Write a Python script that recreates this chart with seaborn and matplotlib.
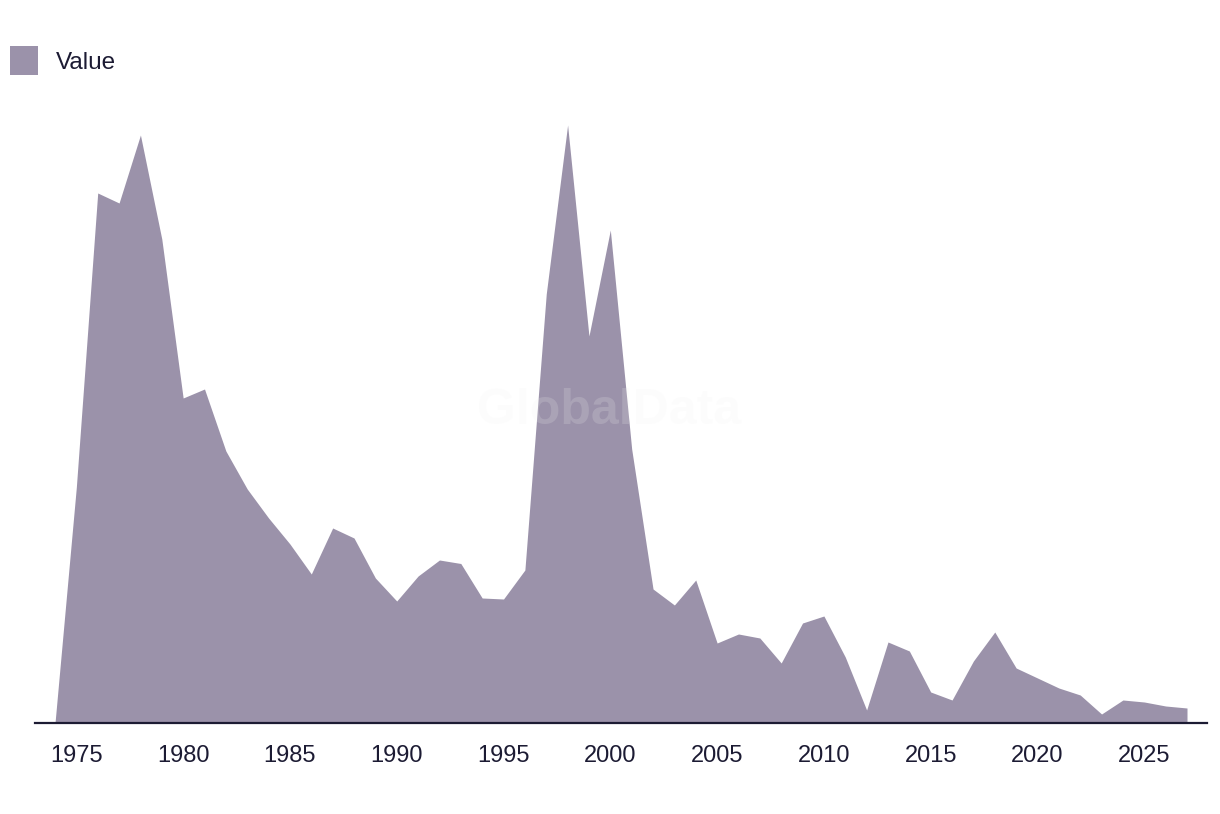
import matplotlib
matplotlib.use("Agg")
import matplotlib.pyplot as plt
import seaborn as sns
import pandas as pd
from matplotlib.patches import Patch

years = list(range(1974, 2028))
values = [0, 236, 530, 520, 588, 484, 325, 334, 272, 234,
          205, 179, 149, 195, 185, 145, 122, 147, 163, 159.5,
          125, 124, 153, 429, 598, 387, 493, 274, 134, 118,
          143, 80, 89, 85, 60, 100, 107, 66, 13, 81,
          72, 31, 23, 62, 91, 55, 45, 35, 28, 9,
          23, 21, 17, 15]
tick_years = [1975, 1980, 1985, 1990, 1995, 2000, 2005, 2010, 2015, 2020, 2025]
series_label = "Value"

fill_color = "#9b92aa"
text_color = "#1c1b33"

sns.set_theme(style="white")
plt.rcParams['font.family'] = ['Liberation Sans', 'DejaVu Sans']

df = pd.DataFrame({"year": years, "value": values})

fig = plt.figure(figsize=(12.2, 8.14), dpi=100)
ax = fig.add_axes([35/1220, 91/814, 1172/1220, (723-100)/814])

sns.lineplot(data=df, x="year", y="value", ax=ax, color=fill_color, linewidth=0)
ax.fill_between(df["year"], df["value"], 0, color=fill_color, linewidth=0)

ax.set_xlim(1974 - 20/21.36, 2027 + 20/21.36)
ax.set_ylim(0, 623)
ax.set_xticks(tick_years)
ax.set_xticklabels([str(y) for y in tick_years])
ax.tick_params(axis='x', length=0, pad=16, labelsize=17, labelcolor=text_color)
ax.set_yticks([])
ax.set_xlabel("")
ax.set_ylabel("")
for s in ["top", "right", "left"]:
    ax.spines[s].set_visible(False)
ax.spines["bottom"].set_color(text_color)
ax.spines["bottom"].set_linewidth(1.6)

ax.text(0.49, 0.5, "GlobalData", transform=ax.transAxes, ha="center", va="center",
        fontsize=36, fontweight="bold", color="#f2f2f2", alpha=0.18, zorder=5)

fig.legend(handles=[Patch(facecolor=fill_color, edgecolor="none")], labels=[series_label],
           loc="upper left", bbox_to_anchor=(10/1220, 1 - 46/814), frameon=False,
           fontsize=17.5, handlelength=1.17, handleheight=1.47, handletextpad=0.7,
           borderpad=0, borderaxespad=0, labelcolor=text_color)

fig.savefig("out.png", dpi=100, facecolor="white")
